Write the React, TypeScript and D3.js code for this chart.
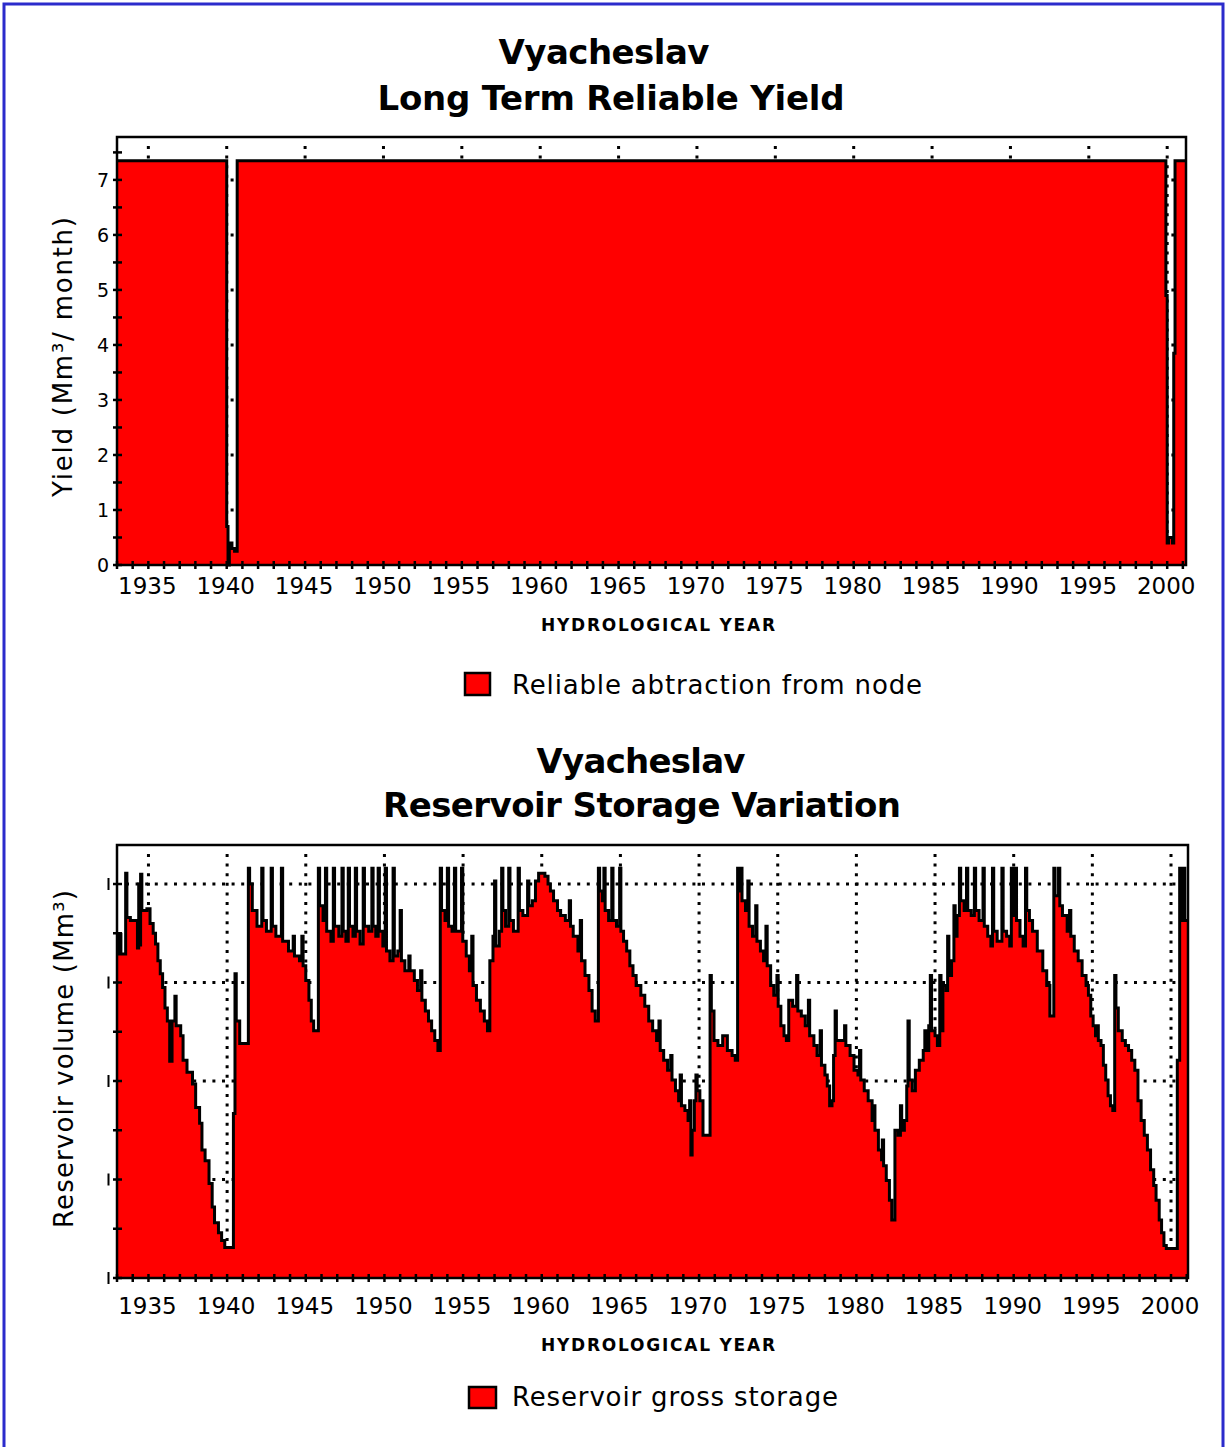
import React from "react";
import * as d3 from "d3";

// ---- data (decimal hydrological year, value) ----
const yieldSteps: [number, number][] = [
  [1933.0, 7.35], [1940.0, 0.7], [1940.083, 0.0], [1940.167, 0.4], [1940.333, 0.3],
  [1940.5, 0.25], [1940.667, 7.35], [1999.917, 4.9], [2000.0, 0.4], [2000.083, 0.5],
  [2000.333, 0.4], [2000.417, 3.85], [2000.5, 7.35],
];

const storageSteps: [number, number][] = [
  [1933.0, 32.9], [1933.15, 34.9], [1933.25, 32.9], [1933.55, 41.1], [1933.63, 36.6], [1933.85, 36.3],
  [1934.3, 33.5], [1934.38, 40.0], [1934.46, 33.8], [1934.5, 41.0], [1934.58, 37.3], [1934.9, 37.5],
  [1935.1, 36.0], [1935.3, 35.0], [1935.45, 33.9], [1935.6, 32.2], [1935.75, 30.9], [1935.9, 29.5],
  [1936.05, 27.4], [1936.2, 26.1], [1936.35, 22.0], [1936.5, 26.1], [1936.68, 28.6], [1936.76, 25.6],
  [1937.05, 24.6], [1937.2, 22.1], [1937.45, 20.9], [1937.8, 19.7], [1938.0, 17.3], [1938.25, 15.7],
  [1938.4, 13.0], [1938.6, 11.9], [1938.85, 9.6], [1939.05, 7.2], [1939.2, 5.6], [1939.45, 4.6],
  [1939.65, 3.8], [1939.85, 3.1], [1940.4, 16.7], [1940.5, 30.9], [1940.58, 26.1], [1940.8, 23.8],
  [1941.35, 41.6], [1941.43, 40.0], [1941.6, 37.3], [1941.9, 35.7], [1942.2, 41.6], [1942.28, 36.3],
  [1942.5, 35.2], [1942.8, 41.6], [1942.88, 35.7], [1943.1, 34.7], [1943.45, 41.6], [1943.53, 34.2],
  [1943.9, 33.2], [1944.2, 34.7], [1944.28, 32.7], [1944.6, 32.2], [1944.75, 34.7], [1944.83, 31.7],
  [1945.0, 30.2], [1945.2, 28.2], [1945.35, 26.1], [1945.5, 25.1], [1945.8, 41.6], [1945.88, 37.8],
  [1946.1, 36.3], [1946.25, 41.6], [1946.33, 35.2], [1946.6, 34.2], [1946.75, 41.6], [1946.83, 35.7],
  [1947.1, 34.7], [1947.3, 41.6], [1947.38, 35.2], [1947.55, 34.2], [1947.7, 41.6], [1947.78, 35.7],
  [1948.0, 34.7], [1948.15, 41.6], [1948.23, 35.2], [1948.45, 33.9], [1948.65, 41.6], [1948.73, 35.7],
  [1949.0, 35.2], [1949.2, 41.6], [1949.28, 35.7], [1949.45, 34.7], [1949.6, 41.6], [1949.68, 35.2],
  [1949.9, 33.7], [1950.05, 41.6], [1950.13, 33.2], [1950.35, 32.2], [1950.55, 41.6], [1950.63, 32.7],
  [1950.85, 33.2], [1951.0, 37.3], [1951.08, 32.2], [1951.3, 31.2], [1951.55, 32.7], [1951.63, 31.2],
  [1951.9, 30.2], [1952.1, 29.2], [1952.3, 31.2], [1952.38, 28.2], [1952.6, 27.1], [1952.8, 26.1],
  [1953.0, 25.1], [1953.2, 24.1], [1953.4, 23.1], [1953.55, 41.6], [1953.63, 37.3], [1953.85, 36.3],
  [1954.0, 41.6], [1954.08, 35.7], [1954.3, 35.2], [1954.45, 41.6], [1954.53, 35.2], [1954.9, 41.6],
  [1954.98, 34.2], [1955.2, 32.7], [1955.4, 31.2], [1955.55, 34.7], [1955.63, 29.7], [1955.85, 28.2],
  [1956.1, 27.1], [1956.35, 26.1], [1956.55, 25.1], [1956.7, 32.2], [1956.9, 34.7], [1957.0, 40.3],
  [1957.08, 33.7], [1957.3, 35.2], [1957.45, 41.6], [1957.53, 37.3], [1957.7, 35.7], [1957.9, 41.6],
  [1957.98, 36.3], [1958.2, 35.2], [1958.5, 41.6], [1958.58, 37.3], [1958.8, 36.8], [1959.1, 40.3],
  [1959.18, 37.8], [1959.4, 38.3], [1959.6, 40.3], [1959.8, 41.1], [1960.2, 40.8], [1960.4, 40.0],
  [1960.55, 39.3], [1960.75, 38.3], [1961.0, 37.3], [1961.2, 36.8], [1961.5, 36.3], [1961.75, 38.3],
  [1961.83, 35.7], [1962.0, 34.7], [1962.3, 33.2], [1962.45, 36.3], [1962.53, 32.2], [1962.75, 30.7],
  [1963.0, 29.2], [1963.2, 27.1], [1963.4, 26.1], [1963.6, 41.6], [1963.68, 39.3], [1963.85, 38.3],
  [1963.95, 41.6], [1964.03, 37.3], [1964.25, 36.3], [1964.45, 41.6], [1964.53, 36.3], [1964.75, 35.7],
  [1964.95, 41.6], [1965.03, 35.2], [1965.2, 34.2], [1965.4, 33.2], [1965.6, 31.7], [1965.8, 30.7],
  [1966.0, 29.7], [1966.3, 28.7], [1966.55, 27.6], [1966.8, 26.1], [1967.05, 25.1], [1967.3, 24.1],
  [1967.45, 26.1], [1967.53, 23.1], [1967.75, 22.1], [1968.0, 21.1], [1968.2, 22.6], [1968.28, 20.1],
  [1968.5, 19.0], [1968.7, 18.0], [1968.8, 20.6], [1968.88, 17.5], [1969.1, 17.0], [1969.3, 16.0],
  [1969.4, 18.0], [1969.48, 12.5], [1969.56, 15.0], [1969.7, 18.0], [1969.8, 20.6], [1969.88, 19.0],
  [1970.05, 18.0], [1970.25, 14.5], [1970.7, 30.7], [1970.78, 27.1], [1970.95, 24.1], [1971.2, 23.6],
  [1971.5, 24.6], [1971.8, 23.1], [1972.1, 22.6], [1972.3, 22.1], [1972.45, 41.6], [1972.53, 39.3],
  [1972.65, 41.6], [1972.73, 38.3], [1972.95, 37.3], [1973.1, 40.3], [1973.18, 35.7], [1973.4, 34.7],
  [1973.6, 37.8], [1973.68, 34.2], [1973.9, 33.2], [1974.1, 32.2], [1974.25, 35.7], [1974.33, 31.7],
  [1974.55, 29.7], [1974.75, 28.7], [1974.95, 30.7], [1975.03, 27.6], [1975.2, 25.6], [1975.4, 24.6],
  [1975.55, 24.1], [1975.7, 28.2], [1975.95, 27.6], [1976.2, 30.7], [1976.28, 27.1], [1976.5, 26.6],
  [1976.75, 25.6], [1976.95, 28.2], [1977.03, 24.6], [1977.3, 23.6], [1977.5, 22.6], [1977.7, 25.1],
  [1977.78, 21.6], [1978.0, 20.6], [1978.15, 19.5], [1978.3, 17.5], [1978.45, 18.0], [1978.55, 22.6],
  [1978.65, 27.1], [1978.73, 24.1], [1979.25, 25.6], [1979.33, 23.6], [1979.6, 22.6], [1979.85, 21.1],
  [1980.1, 20.6], [1980.2, 23.1], [1980.28, 20.1], [1980.5, 19.0], [1980.75, 18.0], [1981.0, 16.0],
  [1981.1, 17.5], [1981.18, 15.0], [1981.4, 13.0], [1981.6, 12.0], [1981.65, 14.0], [1981.73, 11.4],
  [1981.9, 9.9], [1982.1, 7.9], [1982.25, 5.9], [1982.45, 15.0], [1982.65, 14.5], [1982.8, 17.5],
  [1982.88, 15.0], [1983.05, 16.0], [1983.2, 19.5], [1983.28, 26.1], [1983.36, 20.1], [1983.55, 19.0],
  [1983.75, 21.1], [1984.0, 22.1], [1984.25, 23.1], [1984.35, 25.1], [1984.43, 23.1], [1984.6, 25.6],
  [1984.7, 30.7], [1984.78, 25.1], [1985.0, 24.6], [1985.15, 23.6], [1985.3, 30.7], [1985.38, 25.1],
  [1985.5, 29.7], [1985.7, 29.2], [1985.8, 34.7], [1985.88, 30.7], [1986.05, 32.2], [1986.2, 37.8],
  [1986.28, 34.7], [1986.4, 36.8], [1986.55, 41.6], [1986.63, 38.3], [1986.85, 37.3], [1987.0, 41.6],
  [1987.08, 37.3], [1987.3, 36.8], [1987.5, 41.6], [1987.58, 37.3], [1987.8, 36.3], [1988.05, 41.6],
  [1988.13, 35.7], [1988.35, 34.7], [1988.55, 33.7], [1988.65, 41.6], [1988.73, 35.2], [1988.95, 34.2],
  [1989.25, 41.6], [1989.33, 35.2], [1989.55, 34.7], [1989.75, 33.7], [1989.85, 41.6], [1989.93, 36.8],
  [1990.1, 41.6], [1990.18, 36.3], [1990.4, 34.7], [1990.6, 33.7], [1990.75, 41.6], [1990.83, 37.3],
  [1991.0, 36.3], [1991.2, 35.2], [1991.5, 33.2], [1991.85, 31.2], [1992.1, 29.7], [1992.3, 26.6],
  [1992.55, 41.6], [1992.63, 38.8], [1992.85, 41.6], [1992.93, 37.8], [1993.1, 36.8], [1993.4, 35.2],
  [1993.55, 37.3], [1993.63, 34.7], [1993.85, 33.2], [1994.1, 32.2], [1994.35, 30.7], [1994.6, 29.7],
  [1994.75, 28.7], [1994.9, 26.6], [1995.05, 25.6], [1995.2, 24.6], [1995.3, 25.6], [1995.38, 24.1],
  [1995.55, 23.6], [1995.7, 21.6], [1995.85, 20.1], [1996.0, 18.5], [1996.15, 17.5], [1996.3, 17.0],
  [1996.42, 30.7], [1996.5, 27.4], [1996.65, 25.1], [1996.9, 24.1], [1997.1, 23.6], [1997.3, 23.1],
  [1997.5, 22.1], [1997.7, 21.1], [1997.9, 18.0], [1998.1, 16.0], [1998.3, 14.5], [1998.5, 13.0],
  [1998.7, 11.0], [1998.9, 9.4], [1999.05, 7.9], [1999.25, 5.9], [1999.4, 4.6], [1999.55, 3.3],
  [1999.7, 3.0], [2000.4, 22.1], [2000.55, 41.6], [2000.63, 36.3], [2000.8, 41.6], [2000.88, 36.3],
];

const yearLabels = [1935, 1940, 1945, 1950, 1955, 1960, 1965, 1970, 1975, 1980, 1985, 1990, 1995, 2000];
const yieldTicks = [0, 1, 2, 3, 4, 5, 6, 7];
const storageGrid = [10, 20, 30, 40];
const storageMajor = [0, 10, 20, 30, 40];

const topTitle = ["Vyacheslav", "Long Term Reliable Yield"];
const botTitle = ["Vyacheslav", "Reservoir Storage Variation"];
const topLegend = "Reliable abtraction from node";
const botLegend = "Reservoir gross storage";
const xTitle = "HYDROLOGICAL YEAR";

const RED = "#ff0000";
const FONT = "'DejaVu Sans', Verdana, sans-serif";

function withEnd(data: [number, number][], end: number): [number, number][] {
  return [...data, [end, data[data.length - 1][1]]];
}

export default function App() {
  // top chart
  const topX0 = 117, topX1 = 1186, topY0 = 137, topY1 = 565;
  const xT = d3.scaleLinear().domain([1933, 2001.2]).range([topX0, topX1]);
  const yT = d3.scaleLinear().domain([0, 7.78]).range([topY1, topY0]);
  // bottom chart
  const botX0 = 117, botX1 = 1188, botY0 = 845, botY1 = 1278;
  const xB = d3.scaleLinear().domain([1933, 2001.08]).range([botX0, botX1]);
  const yB = d3.scaleLinear().domain([0, 43.96]).range([botY1, botY0]);

  const yData = withEnd(yieldSteps, 2001.2);
  const sData = withEnd(storageSteps, 2001.08);

  const areaT = d3.area<[number, number]>().x(d => xT(d[0])).y0(yT(0)).y1(d => yT(d[1])).curve(d3.curveStepAfter);
  const lineT = d3.line<[number, number]>().x(d => xT(d[0])).y(d => yT(d[1])).curve(d3.curveStepAfter);
  const areaB = d3.area<[number, number]>().x(d => xB(d[0])).y0(yB(0)).y1(d => yB(d[1])).curve(d3.curveStepAfter);
  const lineB = d3.line<[number, number]>().x(d => xB(d[0])).y(d => yB(d[1])).curve(d3.curveStepAfter);

  const years = d3.range(1933, 2002);
  const halfT = d3.range(0, 7.51, 0.5);
  const halfB = d3.range(0, 40.1, 5);

  const dot = { stroke: "#000", strokeWidth: 3, strokeDasharray: "3 6.6", fill: "none" };

  return (
    <svg width={1227} height={1447} style={{ position: "absolute", left: 0, top: 0, background: "#fff" }}
      fontFamily={FONT}>
      <rect x={0} y={0} width={1227} height={1447} fill="#fff" />
      <rect x={4} y={4} width={1219} height={1460} fill="none" stroke="#2b2bcc" strokeWidth={3} />

      {/* ---------- TOP CHART ---------- */}
      <text x={604} y={64} textAnchor="middle" fontWeight="bold" fontSize={34} textLength={211}>{topTitle[0]}</text>
      <text x={611} y={110} textAnchor="middle" fontWeight="bold" fontSize={34} textLength={467}>{topTitle[1]}</text>

      {yearLabels.map(y => (
        <line key={"tv" + y} x1={xT(y)} x2={xT(y)} y1={topY0 + 9} y2={topY1} {...dot} />
      ))}
      {yieldTicks.filter(v => v > 0).map(v => (
        <line key={"th" + v} x1={topX0 + 8} x2={topX1} y1={yT(v)} y2={yT(v)} {...dot} />
      ))}
      <path d={areaT(yData) || ""} fill={RED} />
      <path d={lineT(yData) || ""} fill="none" stroke="#000" strokeWidth={3} />
      <rect x={topX0} y={topY0} width={topX1 - topX0} height={topY1 - topY0} fill="none" stroke="#000" strokeWidth={2.5} />
      {halfT.map(v => (
        <line key={"tyt" + v} x1={topX0 - 4} x2={topX0 + 5} y1={yT(v)} y2={yT(v)} stroke="#000" strokeWidth={2.5} />
      ))}
      {years.map(y => (
        <line key={"txt" + y} x1={xT(y)} x2={xT(y)} y1={topY1 - 4} y2={topY1 + 4} stroke="#000" strokeWidth={2.5} />
      ))}
      {yieldTicks.map(v => (
        <text key={"tyl" + v} x={109} y={yT(v) + 7} textAnchor="end" fontSize={19}>{v}</text>
      ))}
      {yearLabels.map(y => (
        <text key={"txl" + y} x={xT(y) - 1} y={594} textAnchor="middle" fontSize={23}>{y}</text>
      ))}
      <text x={658} y={631} textAnchor="middle" fontWeight="bold" fontSize={17} textLength={234}>{xTitle}</text>
      <text transform="translate(72,357) rotate(-90)" textAnchor="middle" fontSize={26} textLength={280}>Yield (Mm³/ month)</text>

      <rect x={465} y={673} width={25} height={22} fill={RED} stroke="#000" strokeWidth={2.5} />
      <text x={512} y={694} fontSize={26} textLength={410}>{topLegend}</text>

      {/* ---------- BOTTOM CHART ---------- */}
      <text x={641} y={773} textAnchor="middle" fontWeight="bold" fontSize={34} textLength={209}>{botTitle[0]}</text>
      <text x={642} y={817} textAnchor="middle" fontWeight="bold" fontSize={34} textLength={518}>{botTitle[1]}</text>

      {yearLabels.map(y => (
        <line key={"bv" + y} x1={xB(y)} x2={xB(y)} y1={botY0 + 9} y2={botY1} {...dot} />
      ))}
      {storageGrid.map(v => (
        <line key={"bh" + v} x1={botX0 + 9} x2={botX1} y1={yB(v)} y2={yB(v)} {...dot} />
      ))}
      <path d={areaB(sData) || ""} fill={RED} />
      <path d={lineB(sData) || ""} fill="none" stroke="#000" strokeWidth={3} />
      <rect x={botX0} y={botY0} width={botX1 - botX0} height={botY1 - botY0} fill="none" stroke="#000" strokeWidth={2.5} />
      {halfB.map(v => (
        <line key={"byt" + v} x1={botX0 - 4} x2={botX0 + 5} y1={yB(v)} y2={yB(v)} stroke="#000" strokeWidth={2.5} />
      ))}
      {storageMajor.map(v => (
        <rect key={"byl" + v} x={107.5} y={yB(v) - 6} width={2} height={12} fill="#000" />
      ))}
      {years.map(y => (
        <line key={"bxt" + y} x1={xB(y)} x2={xB(y)} y1={botY1 - 4} y2={botY1 + 4} stroke="#000" strokeWidth={2.5} />
      ))}
      {yearLabels.map(y => (
        <text key={"bxl" + y} x={xB(y) - 1} y={1314} textAnchor="middle" fontSize={23}>{y}</text>
      ))}
      <text x={658} y={1351} textAnchor="middle" fontWeight="bold" fontSize={17} textLength={234}>{xTitle}</text>
      <text transform="translate(73,1059) rotate(-90)" textAnchor="middle" fontSize={26} textLength={338}>Reservoir volume (Mm³)</text>

      <rect x={469} y={1387} width={27} height={21} fill={RED} stroke="#000" strokeWidth={2.5} />
      <text x={512} y={1406} fontSize={26} textLength={326}>{botLegend}</text>
    </svg>
  );
}
